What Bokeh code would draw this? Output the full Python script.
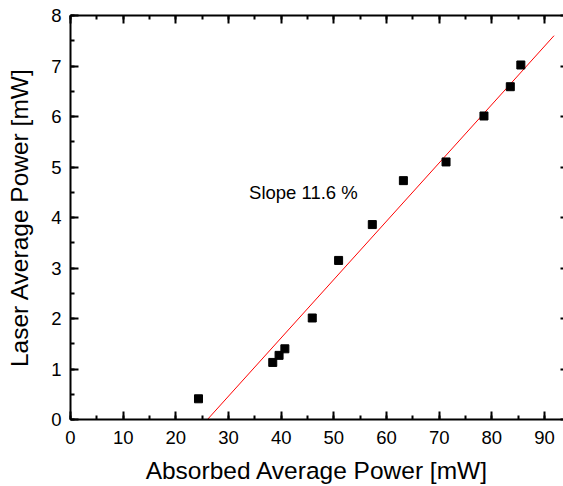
from bokeh.plotting import figure
from bokeh.models import (LinearAxis, Range1d, Label, SingleIntervalTicker,
                          CustomJSTickFormatter, ColumnDataSource)
from bokeh.embed import file_html
from bokeh.resources import INLINE

# ---- data ----
absorbed_mw = [24.3, 38.4, 39.6, 40.7, 45.9, 50.9, 57.3, 63.2, 71.3, 78.5, 83.5, 85.5]
laser_mw = [0.41, 1.13, 1.27, 1.40, 2.01, 3.15, 3.86, 4.73, 5.10, 6.01, 6.59, 7.02]

fit_x = [26.0, 91.8]
fit_y = [0.0, 7.6]

annotation = "Slope 11.6 %"
x_title = "Absorbed Average Power [mW]"
y_title = "Laser Average Power [mW]"

FONT = "Liberation Sans"

p = figure(width=563, height=486, output_backend="svg", toolbar_location=None,
           x_range=Range1d(0, 93.6), y_range=Range1d(0, 8),
           x_axis_type=None, y_axis_type=None,
           min_border_left=70, min_border_bottom=67, min_border_top=15,
           min_border_right=0)
p.outline_line_color = None
p.xgrid.visible = False
p.ygrid.visible = False
p.background_fill_color = "white"
p.border_fill_color = "white"

xt = SingleIntervalTicker(interval=10, num_minor_ticks=2)
yt = SingleIntervalTicker(interval=1, num_minor_ticks=2)


def style(ax, labels=True):
    ax.axis_line_width = 2
    ax.axis_line_color = "black"
    ax.major_tick_line_width = 2
    ax.minor_tick_line_width = 2
    ax.major_tick_in = 8
    ax.major_tick_out = 0
    ax.minor_tick_in = 4
    ax.minor_tick_out = 0
    ax.major_label_text_font = FONT
    ax.major_label_text_font_size = "18.5px"
    ax.major_label_text_color = "black"
    ax.axis_label_text_font = FONT
    ax.axis_label_text_font_size = "24.5px"
    ax.axis_label_text_font_style = "normal"
    ax.axis_label_text_color = "black"
    if not labels:
        ax.formatter = CustomJSTickFormatter(code="return ''")
        ax.major_label_text_font_size = "1px"
        ax.major_label_standoff = 0


xb = LinearAxis(ticker=xt, axis_label=x_title)
style(xb)
xb.major_label_standoff = 11
xb.axis_label_standoff = 10
p.add_layout(xb, "below")

yl = LinearAxis(ticker=yt, axis_label=y_title)
style(yl)
yl.major_label_standoff = 9
yl.axis_label_standoff = 15
p.add_layout(yl, "left")

xtop = LinearAxis(ticker=SingleIntervalTicker(interval=10, num_minor_ticks=2))
style(xtop, labels=False)
p.add_layout(xtop, "above")

yr = LinearAxis(ticker=SingleIntervalTicker(interval=1, num_minor_ticks=0))
style(yr, labels=False)
yr.axis_line_color = None
yr.major_tick_in = 3
yr.minor_tick_in = 0
p.add_layout(yr, "right")

p.line(fit_x, fit_y, line_color="red", line_width=1)

src = ColumnDataSource(dict(x=absorbed_mw, y=laser_mw))
p.scatter("x", "y", source=src, marker="square", size=8,
          fill_color="black", line_color="black")

p.add_layout(Label(x=33.9, y=4.49, text=annotation, text_font=FONT,
                   text_font_size="18.5px", text_color="black",
                   text_baseline="alphabetic"))

open("out.html", "w").write(file_html(p, INLINE))
